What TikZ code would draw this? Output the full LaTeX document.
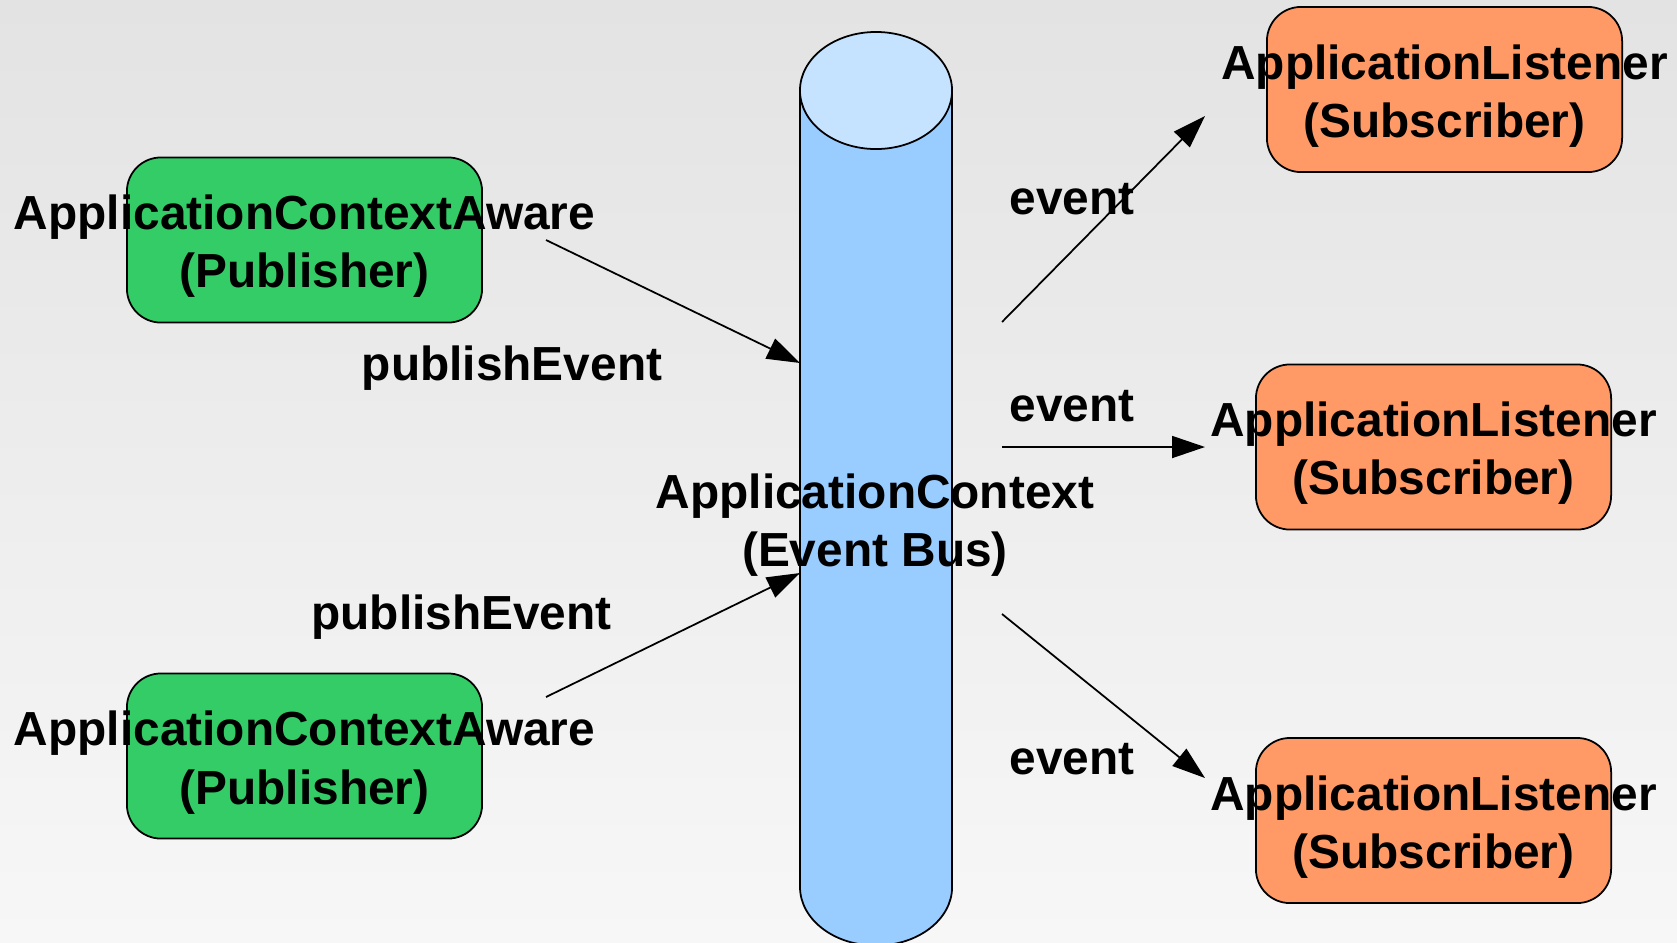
\documentclass[tikz,border=0pt]{standalone}
\usepackage{fontspec}
\setmainfont{Liberation Sans}
\usetikzlibrary{arrows.meta}
\definecolor{pubgreen}{RGB}{51,204,102}
\definecolor{suborange}{RGB}{255,153,102}
\definecolor{busbody}{RGB}{153,204,255}
\definecolor{bustop}{RGB}{197,226,255}
\definecolor{bgtop}{RGB}{227,227,227}
\definecolor{bgbot}{RGB}{247,247,247}
\begin{document}
\begin{tikzpicture}[x=0.01cm,y=-0.01cm,
  box/.style={draw=black, line width=0.5pt, rounded corners=0.34cm,
    minimum width=3.55cm, minimum height=1.65cm, inner sep=0pt},
  pubbox/.style={box, fill=pubgreen},
  subbox/.style={box, fill=suborange},
  txt/.style={font=\fontsize{13.6}{16.5}\selectfont\bfseries, align=center, inner sep=0pt},
  boxtxt/.style={txt, yshift=-0.066cm},
  flow/.style={draw=black, line width=0.5pt, -{Triangle[length=0.33cm, width=0.22cm]}}]
  % page and background
  \useasboundingbox (0,0) rectangle (1677,942);
  \fill[top color=bgtop, bottom color=bgbot] (0,0) rectangle (1677,942);

  % event bus cylinder
  \begin{scope}
    \clip (0,0) rectangle (1677,942);
    \path[draw=black, line width=0.5pt, fill=busbody] (800,90.5) -- (800,887)
      arc[start angle=180, end angle=360, x radius=0.76cm, y radius=0.585cm] -- (952,90.5);
    \draw[line width=0.5pt, fill=bustop] (876,90.5) ellipse[x radius=0.76cm, y radius=0.585cm];
  \end{scope}
  \node[txt] (bus) at (875,525) {ApplicationContext\\(Event Bus)};

  % publishers
  \node[pubbox] (pub1) at (304.5,240) {};
  \node[boxtxt] (pub1t) at (pub1.center) {ApplicationContextAware\\(Publisher)};
  \node[pubbox] (pub2) at (304.5,756) {};
  \node[boxtxt] (pub2t) at (pub2.center) {ApplicationContextAware\\(Publisher)};

  % subscribers
  \node[subbox] (sub1) at (1444.5,89.5) {};
  \node[boxtxt] (sub1t) at (sub1.center) {ApplicationListener\\(Subscriber)};
  \node[subbox] (sub2) at (1433.5,447) {};
  \node[boxtxt] (sub2t) at (sub2.center) {ApplicationListener\\(Subscriber)};
  \node[subbox] (sub3) at (1433.5,820.5) {};
  \node[boxtxt] (sub3t) at (sub3.center) {ApplicationListener\\(Subscriber)};

  % connector end points
  \coordinate (p1s) at (546,240);
  \coordinate (p1e) at (800,363);
  \coordinate (p2s) at (546,697);
  \coordinate (p2e) at (800,573);
  \coordinate (e1s) at (1002,322);
  \coordinate (e1e) at (1205,116);
  \coordinate (e2s) at (1002,447);
  \coordinate (e2e) at (1205,447);
  \coordinate (e3s) at (1002,614);
  \coordinate (e3e) at (1205,778);

  \draw[flow] (p1s) -- (p1e);
  \draw[flow] (p2s) -- (p2e);
  \draw[flow] (e1s) -- (e1e);
  \draw[flow] (e2s) -- (e2e);
  \draw[flow] (e3s) -- (e3e);

  % connector labels
  \node[txt] (lp1) at (512,368.5) {publishEvent};
  \node[txt] (lp2) at (461.5,617) {publishEvent};
  \node[txt] (le1) at (1072,199) {event};
  \node[txt] (le2) at (1072,406.5) {event};
  \node[txt] (le3) at (1072,759) {event};
\end{tikzpicture}
\end{document}
